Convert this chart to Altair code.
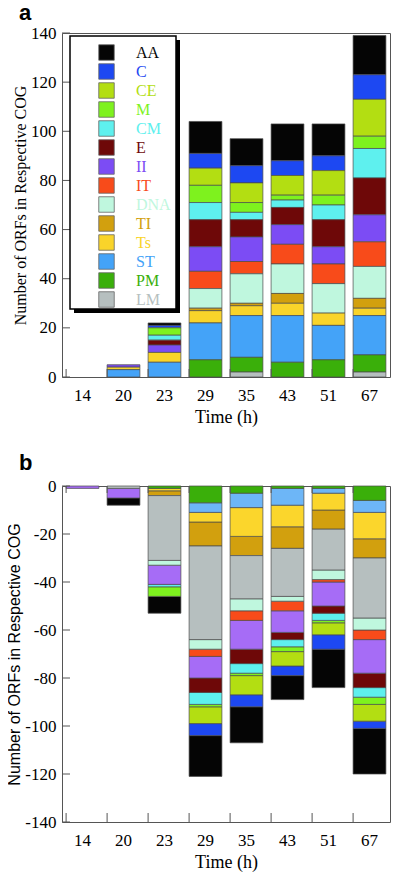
import altair as alt
import pandas as pd

# ---------------- data ----------------
times = ["14", "20", "23", "29", "35", "43", "51", "67"]
cogs = ["AA", "C", "CE", "M", "CM", "E", "II", "IT", "DNA", "TI", "Ts", "ST", "PM", "LM"]

colors_a = ["#050505", "#1d48f2", "#b3de12", "#7ef21e", "#5ef0ee", "#6e0808", "#7c4cf4",
            "#f84b1a", "#bff7de", "#d2a00e", "#f9d42a", "#44a3f8", "#3aaf0a", "#b6bfbf"]
colors_b = ["#050505", "#1d48f2", "#b3de12", "#7ef21e", "#5ef0ee", "#6e0808", "#a66cf6",
            "#f84b1a", "#bff7de", "#d2a00e", "#fbd62c", "#6db6f7", "#3aaf0a", "#b6bfbf"]

# panel a (up-regulated), values per time point
a_AA = [0, 0, 1, 13, 11, 15, 13, 16]
a_C = [0, 0, 1, 6, 7, 6, 6, 10]
a_CE = [0, 0, 0, 7, 8, 8, 10, 15]
a_M = [0, 0, 3, 7, 4, 2, 4, 5]
a_CM = [0, 0, 2, 7, 3, 3, 6, 12]
a_E = [0, 0, 2, 11, 7, 7, 11, 15]
a_II = [0, 1, 3, 10, 10, 8, 7, 11]
a_IT = [0, 0, 0, 7, 5, 8, 8, 10]
a_DNA = [0, 0, 0, 8, 12, 12, 12, 13]
a_TI = [0, 0, 0, 1, 1, 4, 0, 4]
a_Ts = [0, 1, 4, 5, 4, 5, 5, 3]
a_ST = [0, 3, 6, 15, 17, 19, 14, 16]
a_PM = [0, 0, 0, 7, 6, 6, 7, 7]
a_LM = [0, 0, 0, 0, 2, 0, 0, 2]

# panel b (down-regulated)
b_AA = [0, -3, -7, -17, -15, -10, -16, -19]
b_C = [0, 0, 0, -5, -5, -4, -6, -3]
b_CE = [0, 0, 0, -7, -8, -6, -5, -7]
b_M = [0, 0, -4, -1, -1, -2, -1, -3]
b_CM = [0, 0, -1, -5, -4, -3, -3, -4]
b_E = [0, 0, 0, -6, -6, -3, -3, -6]
b_II = [-1, -4, -8, -9, -12, -9, -10, -14]
b_IT = [0, 0, 0, -3, -4, -4, -1, -4]
b_DNA = [0, 0, -2, -4, -5, -2, -4, -5]
b_TI = [0, 0, -2, -10, -8, -9, -8, -8]
b_Ts = [0, 0, -1, -4, -12, -9, -7, -11]
b_ST = [0, 0, 0, -4, -6, -7, -2, -5]
b_PM = [0, 0, -1, -7, -3, -1, -1, -6]
b_LM = [0, -1, -27, -39, -18, -20, -17, -25]

ticks_a = [0, 20, 40, 60, 80, 100, 120, 140]
ticks_b = [-140, -120, -100, -80, -60, -40, -20, 0]

stack_a = ["LM", "PM", "ST", "Ts", "TI", "DNA", "IT", "II", "E", "CM", "M", "CE", "C", "AA"]
stack_b = ["PM", "ST", "Ts", "TI", "LM", "DNA", "IT", "II", "E", "CM", "M", "CE", "C", "AA"]

vals_a = {"AA": a_AA, "C": a_C, "CE": a_CE, "M": a_M, "CM": a_CM, "E": a_E, "II": a_II,
          "IT": a_IT, "DNA": a_DNA, "TI": a_TI, "Ts": a_Ts, "ST": a_ST, "PM": a_PM, "LM": a_LM}
vals_b = {"AA": b_AA, "C": b_C, "CE": b_CE, "M": b_M, "CM": b_CM, "E": b_E, "II": b_II,
          "IT": b_IT, "DNA": b_DNA, "TI": b_TI, "Ts": b_Ts, "ST": b_ST, "PM": b_PM, "LM": b_LM}


def make_df(vals, order):
    rows = []
    for cog, arr in vals.items():
        for t, v in zip(times, arr):
            if v != 0:
                rows.append({"time": t, "cog": cog, "n": v, "rank": order.index(cog)})
    return pd.DataFrame(rows)


df_a = make_df(vals_a, stack_a)
df_b = make_df(vals_b, stack_b)
df_times = pd.DataFrame({"time": times})
df_ticks_a = pd.DataFrame({"n": ticks_a})
df_ticks_b = pd.DataFrame({"n": ticks_b})
one = pd.DataFrame({"k": [0]})

SERIF = "Liberation Serif"
SANS = "Liberation Sans"
FRAME = "#555555"
YTITLE = "Number of ORFs in Respective COG"
XTITLE = "Time (h)"

label_color_expr = "({" + ",".join(f"'{c}':'{col}'" for c, col in zip(cogs, colors_a)) + "})[datum.label]"

WA, HA = 328, 344
WB, HB = 328, 336


def xscale():
    return alt.Scale(paddingInner=0.2, paddingOuter=0.1)


def xaxis():
    return alt.Axis(labelAngle=0, ticks=False, domain=False, labelFont=SERIF, labelFontSize=17,
                    labelPadding=10, titleFont=SERIF, titleFontSize=18,
                    titleFontWeight="normal", titlePadding=5, labelColor="black",
                    titleColor="black", title=XTITLE)


def yaxis(values, title_font, label_expr=None):
    kw = dict(values=values, ticks=False, domain=False, grid=False,
              labelFont=SERIF, labelFontSize=17, labelPadding=6, labelColor="black",
              titleFont=title_font, titleFontSize=16, titleFontWeight="normal",
              titlePadding=2, titleColor="black", title=YTITLE)
    if label_expr:
        kw["labelExpr"] = label_expr
    return alt.Axis(**kw)


def ya_enc(field):
    return alt.Y(field, scale=alt.Scale(domain=[0, 140], nice=False),
                 axis=yaxis(ticks_a, SERIF), title=YTITLE)


def yb_enc(field):
    return alt.Y(field, scale=alt.Scale(domain=[-140, 0], nice=False),
                 axis=yaxis(ticks_b, SANS, "toString(datum.value)"), title=YTITLE)


def x_enc(**kw):
    return alt.X("time:N", sort=times, scale=xscale(), axis=xaxis(), title=XTITLE, **kw)


# ---------------- panel a ----------------
bars_a = alt.Chart(df_a).mark_bar(stroke="#4a4a4a", strokeWidth=0.7).encode(
    x=x_enc(),
    y=ya_enc("sum(n):Q"),
    color=alt.Color("cog:N", scale=alt.Scale(domain=cogs, range=colors_a),
                    legend=alt.Legend(title=None, orient="none", legendX=36, legendY=11,
                                      direction="vertical", symbolType="square", symbolSize=240,
                                      symbolStrokeColor="#666666", symbolStrokeWidth=0.8,
                                      labelFont=SERIF, labelFontSize=16, labelOffset=21,
                                      symbolOffset=0, rowPadding=0, padding=0,
                                      labelColor=alt.ExprRef(label_color_expr),
                                      symbolOpacity=1, labelLimit=200)),
    order=alt.Order("rank:Q", sort="ascending"),
)

shadow_a = alt.Chart(one).mark_rect(color="black").encode(
    x=alt.value(12), x2=alt.value(118), y=alt.value(7), y2=alt.value(280)
)
frame_a = alt.Chart(one).mark_rect(fill="white", stroke="black", strokeWidth=1.5).encode(
    x=alt.value(8), x2=alt.value(114), y=alt.value(3), y2=alt.value(276)
)

yt_a = alt.Chart(df_ticks_a).mark_rule(color=FRAME).encode(
    y=ya_enc("n:Q"), x=alt.value(0), x2=alt.value(8)
)
xt_a = alt.Chart(df_times).mark_rule(color=FRAME).encode(
    x=x_enc(bandPosition=0), y=alt.value(HA), y2=alt.value(HA - 8)
)
lab_a = alt.Chart(one).mark_text(text="a", font=SANS, fontWeight="bold", fontSize=22,
                                 align="left", baseline="alphabetic", color="black").encode(
    x=alt.value(-43), y=alt.value(-13)
)

panel_a = alt.layer(bars_a, yt_a, xt_a, shadow_a, frame_a, lab_a).properties(width=WA, height=HA)

# ---------------- panel b ----------------
bars_b = alt.Chart(df_b).mark_bar(stroke="#4a4a4a", strokeWidth=0.7).encode(
    x=x_enc(),
    y=yb_enc("sum(n):Q"),
    color=alt.Color("cog:N", scale=alt.Scale(domain=cogs, range=colors_b), legend=None),
    order=alt.Order("rank:Q", sort="ascending"),
)
yt_b = alt.Chart(df_ticks_b).mark_rule(color=FRAME).encode(
    y=yb_enc("n:Q"), x=alt.value(0), x2=alt.value(8)
)
xt_b_top = alt.Chart(df_times).mark_rule(color=FRAME).encode(
    x=x_enc(bandPosition=0), y=alt.value(0), y2=alt.value(7)
)
xt_b_bot = alt.Chart(df_times).mark_rule(color=FRAME).encode(
    x=x_enc(bandPosition=0), y=alt.value(HB), y2=alt.value(HB - 9)
)
lab_b = alt.Chart(one).mark_text(text="b", font=SANS, fontWeight="bold", fontSize=22,
                                 align="left", baseline="alphabetic", color="black").encode(
    x=alt.value(-43), y=alt.value(-16)
)

panel_b = alt.layer(bars_b, yt_b, xt_b_top, xt_b_bot, lab_b).properties(width=WB, height=HB)

chart = alt.concat(panel_a, panel_b, columns=1, spacing=24, align="all").resolve_scale(
    color="independent"
).properties(
    padding={"top": -7, "left": -2, "right": 0, "bottom": 0}, background="white"
).configure_view(stroke=FRAME, strokeWidth=1)

chart.save("out.html", embed_options={"renderer": "svg", "actions": False})
